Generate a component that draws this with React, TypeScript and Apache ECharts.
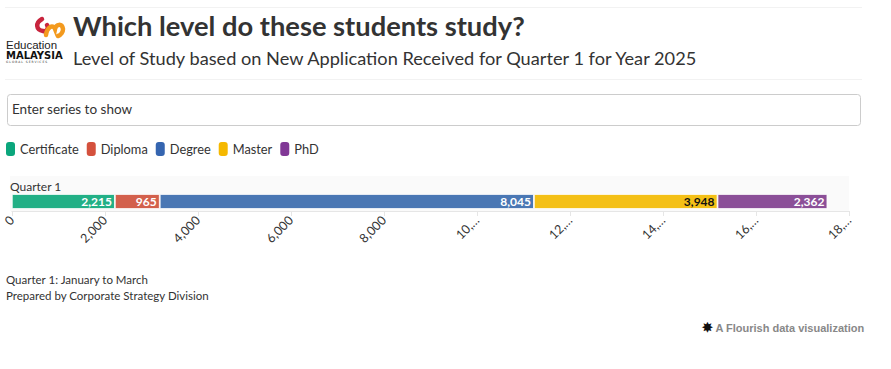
import React, { useEffect, useRef } from "react";
import * as echarts from "echarts";

const categories = ["Quarter 1"];
const seriesNames = ["Certificate", "Diploma", "Degree", "Master", "PhD"];
const certificate = [2215];
const diploma = [965];
const degree = [8045];
const master = [3948];
const phd = [2362];
const seriesValues = [certificate, diploma, degree, master, phd];
const colors = ["#22b086", "#d3604c", "#4a77b4", "#f4c016", "#8b4f98"];
const legendColors = ["#0ba67c", "#d4513d", "#3565b0", "#f5b800", "#813896"];
const labelColors = ["#ffffff", "#ffffff", "#ffffff", "#111111", "#ffffff"];
const axisMax = 18000;
const axisInterval = 2000;

const title = "Which level do these students study?";
const subtitle = "Level of Study based on New Application Received for Quarter 1 for Year 2025";
const searchPlaceholder = "Enter series to show";
const notes = ["Quarter 1: January to March", "Prepared by Corporate Strategy Division"];
const credit = "A Flourish data visualization";

const FONT = "Lato, 'Noto Sans', sans-serif";

echarts.graphic.registerShape(
  "logoRed",
  echarts.graphic.extendPath("M42 19 C35 23 36 30 43 31 C47 32 49 28 47 25", {}) as any
);
echarts.graphic.registerShape(
  "logoOrange",
  echarts.graphic.extendPath("M46 35 C47 27 53 24 55 29 C56 24 62 23 63 29 C63 32 61 35 58 36", {}) as any
);

const fmt = (v: number) => v.toLocaleString("en-US");
const legendIcon =
  "path://M3,0 H6 A3,3 0 0 1 9,3 V11 A3,3 0 0 1 6,14 H3 A3,3 0 0 1 0,11 V3 A3,3 0 0 1 3,0 Z";

export default function App() {
  const ref = useRef<HTMLDivElement>(null);
  useEffect(() => {
    if (!ref.current) return;
    const chart = echarts.init(ref.current, null, { renderer: "svg" });
    const series = seriesNames.map((name, i) => ({
      name,
      type: "bar",
      stack: "total",
      barWidth: 15,
      data: seriesValues[i],
      itemStyle: { color: colors[i], borderColor: "#ffffff", borderWidth: 0.8 },
      label: {
        show: true,
        position: "insideRight",
        distance: 3,
        color: labelColors[i],
        fontWeight: "bold",
        fontSize: 12,
        fontFamily: FONT,
        formatter: (p: any) => fmt(p.value),
      },
      emphasis: { disabled: true },
    }));
    chart.setOption({
      animation: false,
      backgroundColor: "#ffffff",
      textStyle: { fontFamily: FONT },
      legend: {
        left: 6,
        top: 142,
        padding: 0,
        icon: legendIcon,
        symbolKeepAspect: false,
        itemWidth: 9,
        itemHeight: 14,
        itemGap: 8,
        itemStyle: { borderWidth: 0 },
        data: seriesNames.map((n, i) => ({ name: n, itemStyle: { color: legendColors[i], borderWidth: 0 } })),
        textStyle: { fontSize: 12.8, color: "#333333", fontFamily: FONT, padding: [0, 0, 0, 0] },
        selectedMode: false,
      },
      grid: { left: 10.5, right: 42, top: 192, height: 19, containLabel: false },
      xAxis: {
        type: "value",
        min: 0,
        max: axisMax,
        interval: axisInterval,
        splitLine: { show: false },
        axisLine: { show: true, lineStyle: { color: "#e6e6e6" } },
        axisTick: { show: true, length: 5, lineStyle: { color: "#e6e6e6" } },
        axisLabel: {
          rotate: 45,
          margin: 7,
          padding: [11, 0, 0, 0],
          color: "#333333",
          fontSize: 12.5,
          fontFamily: FONT,
          formatter: (v: number) => {
            const s = fmt(v);
            return s.length > 5 ? s.slice(0, 3) + "…" : s;
          },
        },
      },
      yAxis: {
        type: "category",
        data: categories,
        show: false,
      },
      series,
      graphic: [
        { type: "line", shape: { x1: 5, y1: 7.5, x2: 862, y2: 7.5 }, style: { stroke: "#f2f2f2", lineWidth: 1 } },
        { type: "line", shape: { x1: 5, y1: 79.5, x2: 862, y2: 79.5 }, style: { stroke: "#f2f2f2", lineWidth: 1 } },
        { type: "logoRed", style: { stroke: "#c8243d", lineWidth: 4.5, fill: "none", lineCap: "round" } },
        { type: "logoOrange", style: { stroke: "#f39a1e", lineWidth: 4.5, fill: "none", lineCap: "round" } },
        { type: "text", left: 6, top: 39, style: { text: "Education", fontSize: 11.5, lineHeight: 11, fill: "#222", fontFamily: "'Liberation Sans Narrow', 'Liberation Sans', Arial, sans-serif" } },
        { type: "text", left: 6, top: 50, style: { text: "MALAYSIA", fontSize: 10, lineHeight: 9, fontWeight: "bold", fill: "#111", fontFamily: "'DejaVu Sans', sans-serif" } },
        { type: "text", left: 6, top: 60, style: { text: "G L O B A L   S E R V I C E S", fontSize: 3, lineHeight: 3, fill: "#333", fontFamily: "'DejaVu Sans', sans-serif" } },
        { type: "text", left: 73, top: 12, style: { text: title, fontSize: 27.3, fontWeight: "bold", fill: "#333333", fontFamily: FONT } },
        { type: "text", left: 73, top: 49, style: { text: subtitle, fontSize: 18.2, fill: "#333333", fontFamily: FONT } },
        { type: "rect", shape: { x: 7.5, y: 94.5, width: 853, height: 31, r: 3 }, style: { fill: "#ffffff", stroke: "#cccccc", lineWidth: 1 } },
        { type: "text", left: 12, top: 102, style: { text: searchPlaceholder, fontSize: 13.5, fill: "#333333", fontFamily: FONT } },
        { type: "rect", z: -10, shape: { x: 10, y: 176, width: 839, height: 35 }, style: { fill: "#fafafa" } },
        { type: "text", left: 10, top: 180, style: { text: categories[0], fontSize: 12, fill: "#333333", fontFamily: FONT } },
        { type: "text", left: 6, top: 271, style: { text: notes.join("\n"), fontSize: 11.5, lineHeight: 16, fill: "#333333", fontFamily: FONT } },
        {
          type: "text",
          right: 26,
          top: 321,
          style: {
            text: "{s|✸} " + credit,
            fontSize: 11,
            fontWeight: "bold",
            fill: "#888888",
            fontFamily: "'Liberation Sans', Arial, sans-serif",
            rich: { s: { fill: "#111111", fontSize: 13, fontWeight: "bold" } },
          },
        },
      ],
    });
    return () => chart.dispose();
  }, []);
  return <div ref={ref} style={{ position: "fixed", left: 0, top: 0, width: 891, height: 369 }} />;
}
